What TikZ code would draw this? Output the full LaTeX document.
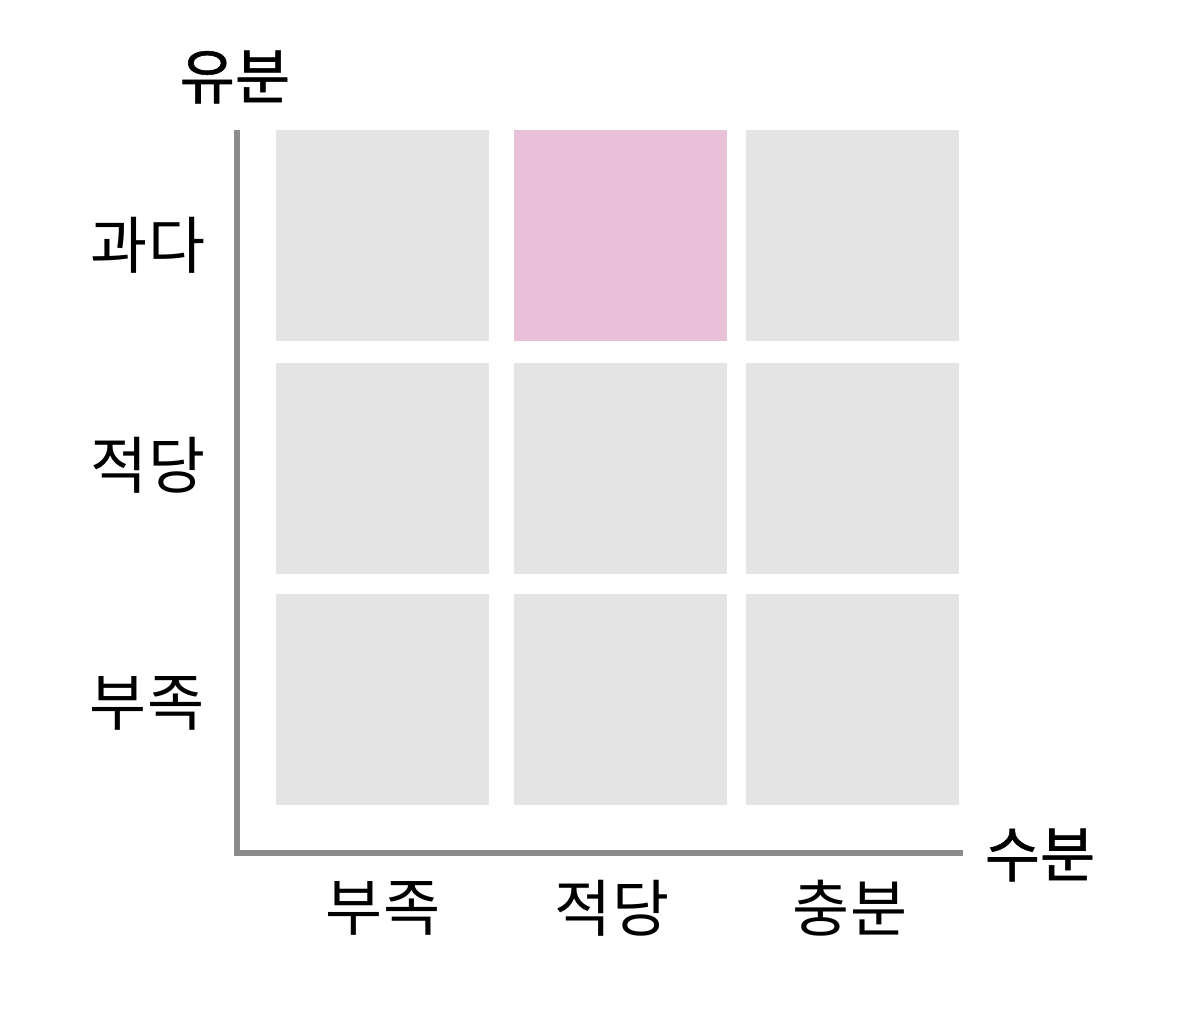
\documentclass[tikz,border=0pt]{standalone}
\usepackage{fontspec}
\setmainfont{Noto Sans CJK KR}
\newfontfamily\krtitle[FakeBold=1.0]{Noto Sans CJK KR}
\definecolor{cellgray}{HTML}{E4E4E4}
\definecolor{cellpink}{HTML}{E8C1D9}
\definecolor{axisgray}{HTML}{8C8C8C}
\tikzset{
  cell/.style={fill=cellgray, draw=none},
  hot/.style={fill=cellpink, draw=none},
  axisline/.style={draw=axisgray, line width=6pt},
  lab/.style={font=\fontsize{62}{68}\selectfont, inner sep=0pt},
  ttl/.style={font=\krtitle\fontsize{60}{66}\selectfont, inner sep=0pt}
}
\begin{document}
\begin{tikzpicture}[x=1pt,y=-1pt]
\useasboundingbox (0,0) rectangle (1200,1020);
% cells
\path[cell] (276,130) rectangle (489,341);
\path[hot]  (514,130) rectangle (727,341);
\path[cell] (746,130) rectangle (959,341);
\path[cell] (276,363) rectangle (489,574);
\path[cell] (514,363) rectangle (727,574);
\path[cell] (746,363) rectangle (959,574);
\path[cell] (276,594) rectangle (489,805);
\path[cell] (514,594) rectangle (727,805);
\path[cell] (746,594) rectangle (959,805);
% axes
\coordinate (top) at (237,130);
\coordinate (origin) at (237,852.5);
\coordinate (right) at (963,852.5);
\draw[axisline] (top) -- (origin) -- (right);
% titles
\node[ttl] (ytitle) at (235,77) {유분};
\node[ttl] (xtitle) at (1040,855) {수분};
% row labels
\node[lab] (r1) at (148,245) {과다};
\node[lab] (r2) at (148,465) {적당};
\node[lab] (r3) at (147,703) {부족};
% column labels
\node[lab] (c1) at (383,908) {부족};
\node[lab] (c2) at (612,908) {적당};
\node[lab] (c3) at (850,908) {충분};
\end{tikzpicture}
\end{document}
